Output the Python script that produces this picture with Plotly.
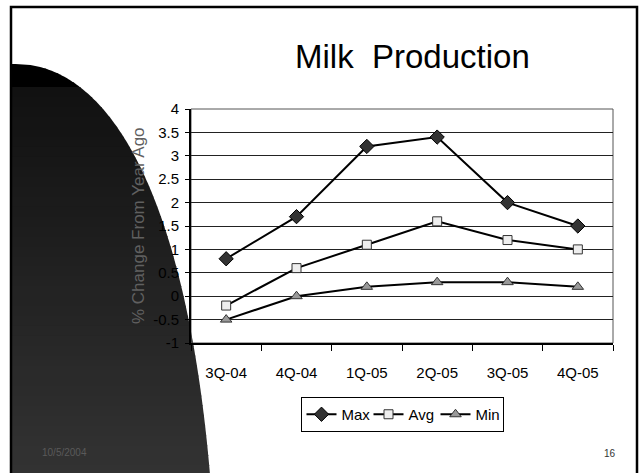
import plotly.graph_objects as go
import numpy as np

categories = ["3Q-04", "4Q-04", "1Q-05", "2Q-05", "3Q-05", "4Q-05"]
max_vals = [0.8, 1.7, 3.2, 3.4, 2.0, 1.5]
avg_vals = [-0.2, 0.6, 1.1, 1.6, 1.2, 1.0]
min_vals = [-0.5, 0.0, 0.2, 0.3, 0.3, 0.2]
y_ticks = [-1, -0.5, 0, 0.5, 1, 1.5, 2, 2.5, 3, 3.5, 4]
y_ticklabels = ["-1", "-0.5", "0", "0.5", "1", "1.5", "2", "2.5", "3", "3.5", "4"]

W, H = 643, 473
L, R, T, B = 191, 613, 109, 343
FONT = "Liberation Sans, Arial, sans-serif"


def px(x):
    return (x - L) / (R - L)


def py(y):
    return (B - y) / (B - T)


fig = go.Figure()
fig.add_trace(go.Scatter(
    x=categories, y=max_vals, name="Max", mode="lines+markers",
    line=dict(color="black", width=2),
    marker=dict(symbol="diamond", size=11, color="#333333", line=dict(color="black", width=1))))
fig.add_trace(go.Scatter(
    x=categories, y=avg_vals, name="Avg", mode="lines+markers",
    line=dict(color="black", width=2),
    marker=dict(symbol="square", size=9, color="#eeeeee", line=dict(color="#333333", width=1))))
fig.add_trace(go.Scatter(
    x=categories, y=min_vals, name="Min", mode="lines+markers",
    line=dict(color="black", width=2),
    marker=dict(symbol="triangle-up", size=10, color="#999999", line=dict(color="#333333", width=1))))

shapes = []
# left dark decorative shape (slide background art), drawn as slices for a gradient
ytop = 64
edge_y = np.array([64, 68, 83, 103, 140, 173, 207, 240, 330, 472])
edge_x = np.array([12, 50, 73, 97, 123, 143, 157, 170, 192, 209])
coef = np.polyfit(np.sqrt(edge_y - ytop), edge_x, 3)


def edge(y):
    return np.polyval(coef, np.sqrt(np.maximum(y - ytop, 0)))


edges = np.concatenate([np.linspace(ytop, 87, 6), np.linspace(87, H + 2, 40)[1:]])
for i in range(len(edges) - 1):
    ya, yb = edges[i], min(edges[i + 1] + 1.0, H + 2)
    ys = np.linspace(ya, yb, 6)
    xs = edge(ys)
    pts = [(px(10), py(ya))] + [(px(xx), py(yy)) for xx, yy in zip(xs, ys)] + [(px(10), py(yb))]
    path = "M " + " L ".join(f"{p[0]:.5f},{p[1]:.5f}" for p in pts) + " Z"
    mid = 0.5 * (ya + yb)
    g = 0 if mid < 87 else int(17 + (mid - 87) / (H - 87) * 34)
    shapes.append(dict(type="path", path=path, xref="paper", yref="paper",
                       fillcolor=f"rgb({g},{g},{g})", line=dict(width=0), layer="below"))

# slide frame
shapes.append(dict(type="rect", xref="paper", yref="paper",
                   x0=px(11), x1=px(637), y0=py(7), y1=py(490),
                   line=dict(color="black", width=2.5), fillcolor="rgba(0,0,0,0)", layer="above"))
# plot area border (top/right thin)
shapes.append(dict(type="rect", xref="paper", yref="paper", x0=0, x1=1, y0=0, y1=1,
                   line=dict(color="#555555", width=1), layer="below"))

fig.update_layout(
    width=W, height=H,
    margin=dict(l=L, r=W - R, t=T, b=H - B),
    paper_bgcolor="white", plot_bgcolor="rgba(0,0,0,0)",
    shapes=shapes,
    showlegend=True,
    legend=dict(orientation="h", x=0.5, xanchor="center", y=py(397), yanchor="top",
                bordercolor="black", borderwidth=1, bgcolor="white",
                font=dict(family=FONT, size=15, color="black"),
                entrywidth=22, entrywidthmode="pixels", tracegroupgap=0),
    font=dict(family=FONT, color="black"),
)
fig.update_xaxes(
    type="category", showgrid=False, tickson="boundaries",
    ticks="outside", ticklen=6, tickwidth=1, tickcolor="black",
    showline=True, linecolor="black", linewidth=2, ticklabelstandoff=15,
    tickfont=dict(family=FONT, size=15, color="black"), range=[-0.5, 5.5])
fig.update_yaxes(
    range=[-1, 4], tickvals=y_ticks, ticktext=y_ticklabels,
    showgrid=True, gridcolor="#222222", gridwidth=1, zeroline=False,
    ticks="outside", ticklen=4, tickwidth=1, tickcolor="black",
    showline=True, linecolor="black", linewidth=2, ticklabelstandoff=3,
    tickfont=dict(family=FONT, size=15, color="black"))

ann = dict(xref="paper", yref="paper", showarrow=False, xanchor="center", yanchor="middle")
fig.add_annotation(text="Milk  Production", x=px(412), y=py(57),
                   font=dict(family=FONT, size=33, color="black"), **ann)
fig.add_annotation(text="% Change From Year Ago", x=px(138), y=py(226), textangle=-90,
                   font=dict(family=FONT, size=17, color="#606060"), **ann)
fig.add_annotation(text="10/5/2004", x=px(64), y=py(452),
                   font=dict(family=FONT, size=10, color="#5a5a5a"), **ann)
fig.add_annotation(text="16", x=px(610), y=py(453),
                   font=dict(family=FONT, size=10, color="#333333"), **ann)

fig.write_html("out.html", config={"displayModeBar": False},
               post_script="document.body.style.margin='0';")
